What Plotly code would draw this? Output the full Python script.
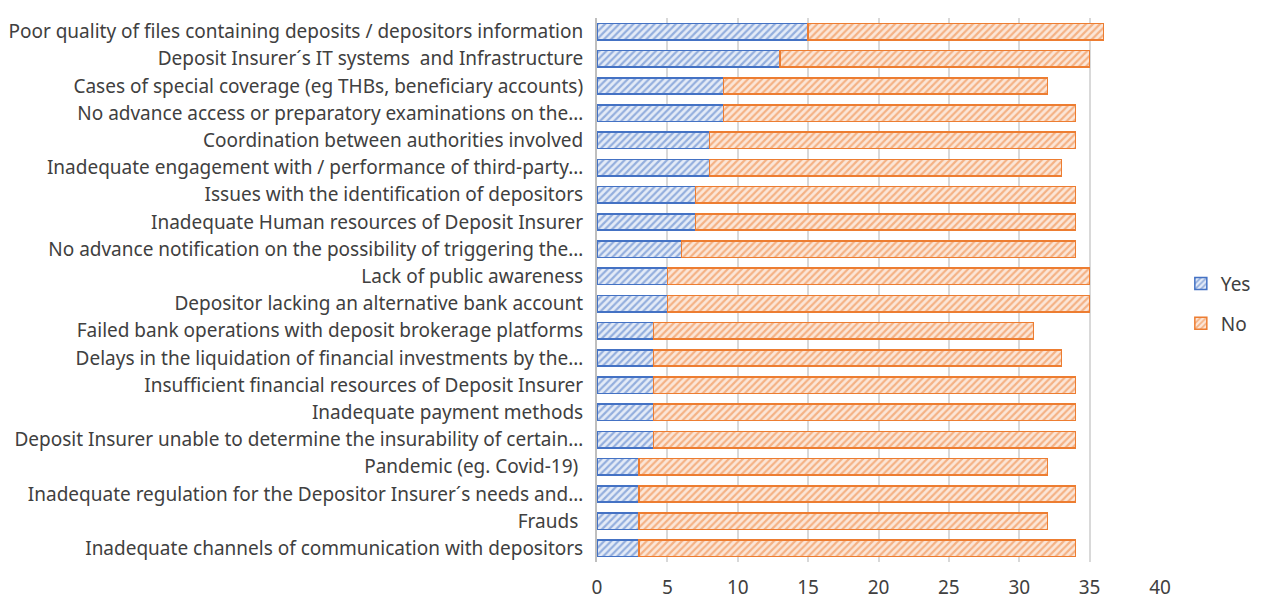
import plotly.graph_objects as go

categories = [
    "Poor quality of files containing deposits / depositors information",
    "Deposit Insurer´s IT systems  and Infrastructure",
    "Cases of special coverage (eg THBs, beneficiary accounts)",
    "No advance access or preparatory examinations on the…",
    "Coordination between authorities involved",
    "Inadequate engagement with / performance of third-party…",
    "Issues with the identification of depositors",
    "Inadequate Human resources of Deposit Insurer",
    "No advance notification on the possibility of triggering the…",
    "Lack of public awareness",
    "Depositor lacking an alternative bank account",
    "Failed bank operations with deposit brokerage platforms",
    "Delays in the liquidation of financial investments by the…",
    "Insufficient financial resources of Deposit Insurer",
    "Inadequate payment methods",
    "Deposit Insurer unable to determine the insurability of certain…",
    "Pandemic (eg. Covid-19) ",
    "Inadequate regulation for the Depositor Insurer´s needs and…",
    "Frauds ",
    "Inadequate channels of communication with depositors",
]
yes_values = [15, 13, 9, 9, 8, 8, 7, 7, 6, 5, 5, 4, 4, 4, 4, 4, 3, 3, 3, 3]
no_values = [21, 22, 23, 25, 26, 25, 27, 27, 28, 30, 30, 27, 29, 30, 30, 30, 29, 31, 29, 31]
x_ticks = [0, 5, 10, 15, 20, 25, 30, 35, 40]

FONT = "Noto Sans"
TXT = "#404040"
FS = 19

fig = go.Figure()
fig.add_trace(go.Bar(
    y=categories, x=yes_values, name="Yes", orientation="h",
    legendgroup="yes",
    marker=dict(color="#e4ebf7",
                line=dict(color="#4472C4", width=1.5),
                pattern=dict(shape="/", fgcolor="#4472C4", bgcolor="#e4ebf7",
                             size=5, solidity=0.45)),
))
fig.add_trace(go.Bar(
    y=categories, x=no_values, name="No", orientation="h",
    legendgroup="no",
    marker=dict(color="#fbe6d8",
                line=dict(color="#ED7D31", width=1.5),
                pattern=dict(shape="/", fgcolor="#ED7D31", bgcolor="#fbe6d8",
                             size=5, solidity=0.45)),
))

fig.update_layout(
    width=1275, height=601,
    barmode="stack", bargap=0.4,
    paper_bgcolor="white", plot_bgcolor="white",
    margin=dict(l=597, r=115, t=18, b=39, autoexpand=False),
    font=dict(family=FONT, size=FS, color=TXT),
    legend=dict(x=1.037, y=0.475, yanchor="middle", xanchor="left",
                traceorder="grouped", tracegroupgap=12,
                font=dict(size=FS, color=TXT), itemwidth=30),
    xaxis=dict(range=[0, 40], tickvals=x_ticks, showgrid=True,
               gridcolor="#d9d9d9", gridwidth=1.5, zeroline=False,
               ticklabelstandoff=12, tickfont=dict(size=FS, color=TXT),
               showline=False),
    yaxis=dict(autorange="reversed", showline=True, linecolor="#bfbfbf",
               linewidth=2, ticks="", ticklabelstandoff=8,
               tickfont=dict(size=FS, color=TXT)),
)

fig.write_html("out.html", config={"displayModeBar": False},
               post_script="document.body.style.margin='0';document.body.style.overflow='hidden';")
